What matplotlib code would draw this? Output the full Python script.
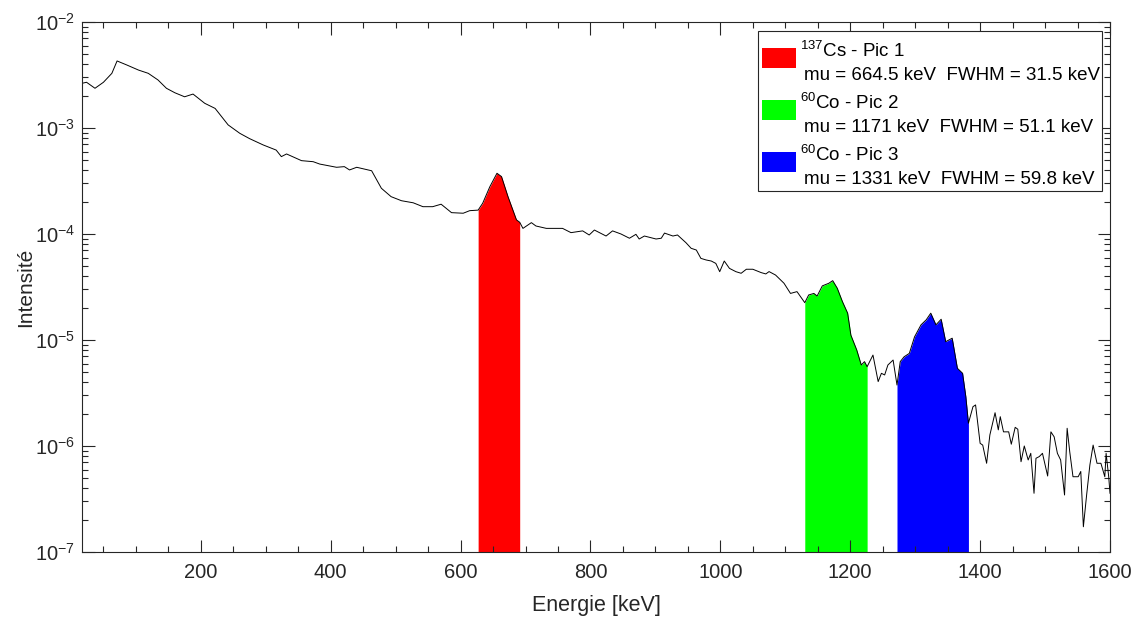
import numpy as np
import matplotlib
matplotlib.use("Agg")
import matplotlib.pyplot as plt
from matplotlib.patches import Rectangle
from matplotlib.ticker import MultipleLocator, LogLocator, NullFormatter

plt.rcParams["font.family"] = ["Liberation Sans", "DejaVu Sans"]
plt.rcParams["mathtext.fontset"] = "custom"
plt.rcParams["mathtext.rm"] = "Liberation Sans"
plt.rcParams["mathtext.it"] = "Liberation Sans:italic"
plt.rcParams["mathtext.default"] = "regular"

# spectrum (keV, intensity)
energy = [17, 24, 37, 50, 63, 71, 86, 104, 119, 134, 147, 160, 175, 188, 206, 222,
          242, 260, 275, 296, 316, 324, 332, 355, 373, 383, 409, 421, 429, 440, 463,
          478, 493, 509, 527, 542, 557, 570, 586, 604, 614, 627, 634, 645, 656, 663,
          673, 686, 691, 696, 709, 716, 732, 757, 770, 788, 798, 806, 824, 834, 847,
          860, 870, 875, 883, 901, 909, 914, 927, 934, 947, 955, 963, 970, 978, 986,
          993, 999, 1006, 1014, 1024, 1032, 1040, 1050, 1063, 1070, 1075, 1085, 1098,
          1108, 1118, 1130, 1136, 1144, 1149, 1157, 1167, 1173, 1180, 1188, 1196, 1201,
          1210, 1217, 1222, 1226, 1235, 1243, 1248, 1253, 1258, 1266, 1272, 1277, 1283,
          1291, 1299, 1309, 1317, 1324, 1332, 1340, 1347, 1352, 1357, 1365, 1373, 1378,
          1382, 1389, 1393, 1400, 1404, 1410, 1415, 1423, 1428, 1431, 1436, 1444, 1448,
          1454, 1458, 1463, 1468, 1474, 1478, 1483, 1486, 1491, 1496, 1504, 1509, 1514,
          1519, 1524, 1530, 1534, 1538, 1543, 1551, 1555, 1559, 1564, 1569, 1574, 1580,
          1586, 1592, 1594, 1598, 1600]
intensity = [2.64e-3, 2.70e-3, 2.37e-3, 2.70e-3, 3.28e-3, 4.29e-3, 3.93e-3, 3.52e-3,
             3.28e-3, 2.84e-3, 2.37e-3, 2.15e-3, 1.97e-3, 2.09e-3, 1.71e-3, 1.53e-3,
             1.07e-3, 8.91e-4, 7.94e-4, 6.92e-4, 6.19e-4, 5.37e-4, 5.69e-4, 4.92e-4,
             4.81e-4, 4.57e-4, 4.26e-4, 4.32e-4, 4.02e-4, 4.26e-4, 3.95e-4, 2.70e-4,
             2.25e-4, 2.06e-4, 1.97e-4, 1.81e-4, 1.81e-4, 1.91e-4, 1.59e-4, 1.57e-4,
             1.66e-4, 1.68e-4, 1.95e-4, 2.79e-4, 3.74e-4, 3.48e-4, 2.25e-4, 1.36e-4,
             1.29e-4, 1.13e-4, 1.28e-4, 1.19e-4, 1.13e-4, 1.13e-4, 1.03e-4, 1.07e-4,
             9.79e-5, 1.09e-4, 9.57e-5, 1.07e-4, 1.00e-4, 9.12e-5, 9.93e-5, 8.97e-5,
             9.57e-5, 8.97e-5, 9.12e-5, 1.02e-4, 9.57e-5, 9.79e-5, 8.28e-5, 7.33e-5,
             7.06e-5, 5.89e-5, 5.69e-5, 5.56e-5, 5.28e-5, 4.41e-5, 5.56e-5, 4.74e-5,
             4.41e-5, 4.26e-5, 4.65e-5, 4.65e-5, 4.32e-5, 4.20e-5, 4.42e-5, 4.10e-5,
             3.43e-5, 2.75e-5, 2.86e-5, 2.25e-5, 2.66e-5, 2.75e-5, 2.60e-5, 3.24e-5,
             3.43e-5, 3.63e-5, 3.08e-5, 2.30e-5, 1.79e-5, 1.11e-5, 8.05e-6, 5.81e-6,
             6.25e-6, 5.60e-6, 7.21e-6, 4.05e-6, 4.85e-6, 4.68e-6, 5.81e-6, 6.47e-6,
             3.76e-6, 6.25e-6, 6.95e-6, 7.48e-6, 1.07e-5, 1.39e-5, 1.55e-5, 1.79e-5,
             1.39e-5, 1.57e-5, 9.64e-6, 1.00e-5, 1.04e-5, 5.41e-6, 4.85e-6, 2.92e-6,
             1.64e-6, 2.35e-6, 2.44e-6, 1.06e-6, 1.02e-6, 6.87e-7, 1.27e-6, 2.06e-6,
             1.42e-6, 1.89e-6, 1.36e-6, 1.36e-6, 1.04e-6, 1.50e-6, 1.44e-6, 7.11e-7,
             1.00e-6, 7.38e-7, 8.53e-7, 3.58e-7, 7.66e-7, 7.94e-7, 8.53e-7, 5.21e-7,
             1.36e-6, 1.22e-6, 8.53e-7, 7.38e-7, 3.45e-7, 1.47e-6, 8.83e-7, 5.13e-7,
             5.13e-7, 5.75e-7, 1.73e-7, 3.45e-7, 6.61e-7, 1.02e-6, 6.87e-7, 6.87e-7,
             5.13e-7, 8.53e-7, 5.13e-7, 3.58e-7]

peak_lo = [627, 1130, 1272]
peak_hi = [691, 1226, 1382]
peak_colors = ["#ff0000", "#00ff00", "#0000ff"]
peak_titles = ["$^{137}$Cs - Pic 1", "$^{60}$Co - Pic 2", "$^{60}$Co - Pic 3"]
peak_info = ["mu = 664.5 keV  FWHM = 31.5 keV",
             "mu = 1171 keV  FWHM = 51.1 keV",
             "mu = 1331 keV  FWHM = 59.8 keV"]

W, H = 1139, 619
fig = plt.figure(figsize=(W / 100, H / 100), dpi=100)
ax = fig.add_axes([82 / W, 1 - 552 / H, (1110 - 82) / W, (552 - 22) / H])

E = np.array(energy)
I = np.array(intensity)
for lo, hi, c in zip(peak_lo, peak_hi, peak_colors):
    m = (E >= lo) & (E <= hi)
    ax.fill_between(E[m], I[m], 1e-9, color=c, linewidth=0, zorder=1)
ax.plot(E, I, color="black", linewidth=0.7, zorder=2)

ax.set_yscale("log")
ax.set_xlim(17, 1600)
ax.set_ylim(1e-7, 1e-2)
ax.xaxis.set_major_locator(MultipleLocator(200))
ax.xaxis.set_minor_locator(MultipleLocator(50))
ax.yaxis.set_major_locator(LogLocator(base=10, numticks=10))
ax.yaxis.set_minor_locator(LogLocator(base=10, subs=np.arange(2, 10), numticks=20))
ax.yaxis.set_minor_formatter(NullFormatter())

gray = "#262626"
ax.tick_params(which="both", direction="in", top=True, right=True, colors=gray,
               labelsize=14.5, width=0.8)
ax.tick_params(which="major", length=9)
ax.tick_params(axis="x", which="major", pad=8)
ax.tick_params(axis="y", which="major", pad=5)
ax.tick_params(which="minor", length=4.5)
for s in ax.spines.values():
    s.set_color(gray)
    s.set_linewidth(0.8)
ax.set_xlabel("Energie [keV]", fontsize=15.5, color=gray, labelpad=9)
ax.set_ylabel("Intensité", fontsize=15, color=gray, labelpad=0)


def fx(px):
    return px / W


def fy(py):
    return 1 - py / H


# legend box drawn by hand (patch next to the first line of each entry)
fig.add_artist(Rectangle((fx(758), fy(191)), fx(1102) - fx(758), fy(31) - fy(191),
                         transform=fig.transFigure, facecolor="white",
                         edgecolor=gray, linewidth=0.8, zorder=5))
for k in range(3):
    top = 48 + 52 * k
    fig.add_artist(Rectangle((fx(762), fy(top + 20)), fx(34), fy(0) - fy(20),
                             transform=fig.transFigure, facecolor=peak_colors[k],
                             edgecolor="none", zorder=6))
    fig.text(fx(800), fy(top + 9), peak_titles[k], fontsize=13.5, color="black",
             va="baseline", zorder=7)
    fig.text(fx(804), fy(top + 32), peak_info[k], fontsize=13.5, color="black",
             va="baseline", zorder=7)

fig.savefig("out.png", dpi=100)
